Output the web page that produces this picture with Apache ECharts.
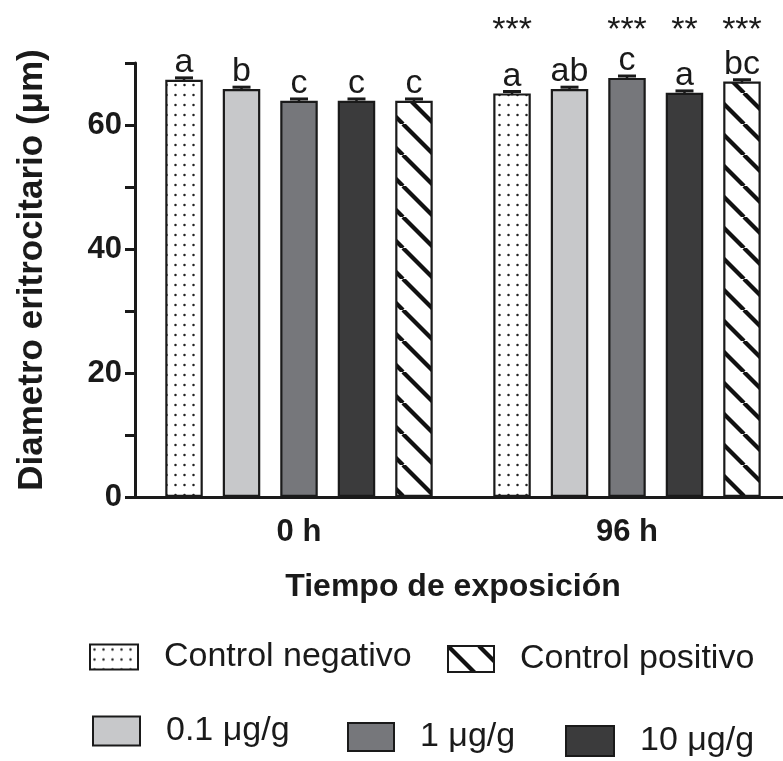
<!DOCTYPE html>
<html>
<head>
<meta charset="utf-8">
<script src="https://cdn.jsdelivr.net/npm/echarts@6/dist/echarts.min.js"></script>
<style>
html,body{margin:0;padding:0;background:#fff;}
#chart{width:783px;height:761px;}
</style>
</head>
<body>
<div id="chart"></div>
<script>
// ---------- data ----------
const categories = ['0 h', '96 h'];
const seriesNames = ['Control negativo', '0.1 μg/g', '1 μg/g', '10 μg/g', 'Control positivo'];
const ctrlNeg = [67.3, 65.1];
const dose01 = [65.8, 65.8];
const dose1 = [63.9, 67.6];
const dose10 = [63.9, 65.2];
const ctrlPos = [63.9, 67.0];
const errCtrlNeg = [0.3, 0.3];
const errDose01 = [0.3, 0.3];
const errDose1 = [0.3, 0.3];
const errDose10 = [0.3, 0.3];
const errCtrlPos = [0.3, 0.3];
const lettersCtrlNeg = ['a', 'a'];
const lettersDose01 = ['b', 'ab'];
const lettersDose1 = ['c', 'c'];
const lettersDose10 = ['c', 'a'];
const lettersCtrlPos = ['c', 'bc'];
const starsCtrlNeg = ['', '***'];
const starsDose01 = ['', ''];
const starsDose1 = ['', '***'];
const starsDose10 = ['', '**'];
const starsCtrlPos = ['', '***'];
const yMin = 0, yMax = 70, yStep = 10, yLabelStep = 20;
const yTitle = 'Diametro eritrocitario (μm)';
const xTitle = 'Tiempo de exposición';

const values = [ctrlNeg, dose01, dose1, dose10, ctrlPos];
const errs = [errCtrlNeg, errDose01, errDose1, errDose10, errCtrlPos];
const letters = [lettersCtrlNeg, lettersDose01, lettersDose1, lettersDose10, lettersCtrlPos];
const stars = [starsCtrlNeg, starsDose01, starsDose1, starsDose10, starsCtrlPos];

// ---------- styles ----------
const BAR_W = 37.5;
const BAR_GAP = '53.3%';
const INK = '#1a1a1a';
const BOLD_FONT = '"Liberation Sans", Arial, sans-serif';
const FONT = '"Liberation Sans", Arial, sans-serif';

function dotPattern() {
  const c = document.createElement('canvas');
  c.width = 9; c.height = 10;
  const g = c.getContext('2d');
  g.fillStyle = '#fff'; g.fillRect(0, 0, 9, 10);
  g.fillStyle = '#222';
  g.beginPath(); g.arc(4.5, 5, 1.25, 0, Math.PI * 2); g.fill();
  return c;
}
function hatchPattern() {
  const S = 31;
  const c = document.createElement('canvas');
  c.width = S; c.height = S;
  const g = c.getContext('2d');
  g.fillStyle = '#fff'; g.fillRect(0, 0, S, S);
  g.strokeStyle = '#111'; g.lineWidth = 4.2;
  [-S, 0, S].forEach(function (x0) {
    g.beginPath(); g.moveTo(x0, 0); g.lineTo(x0 + S, S); g.stroke();
  });
  return c;
}
const fills = [
  { image: dotPattern(), repeat: 'repeat' },
  '#c7c8ca',
  '#76777b',
  '#3b3b3c',
  { image: hatchPattern(), repeat: 'repeat' }
];

const chart = echarts.init(document.getElementById('chart'), null, { renderer: 'canvas' });

const barSeries = seriesNames.map(function (name, k) {
  return {
    name: name,
    type: 'bar',
    data: values[k],
    barWidth: BAR_W,
    barGap: BAR_GAP,
    itemStyle: { color: fills[k], borderColor: INK, borderWidth: 2.2 },
    label: {
      show: true, position: 'top', distance: 0,
      formatter: function (p) { return letters[k][p.dataIndex]; },
      fontSize: 34, color: INK, fontFamily: FONT
    },
    emphasis: { disabled: true },
    z: 2
  };
});

const errData = [];
values.forEach(function (arr, k) {
  arr.forEach(function (v, c) { errData.push([c, k, v, errs[k][c]]); });
});

const errSeries = {
  type: 'custom',
  name: 'err',
  data: errData,
  z: 5,
  silent: true,
  renderItem: function (params, api) {
    const c = api.value(0), k = api.value(1), v = api.value(2), e = api.value(3);
    const lay = api.barLayout({ count: seriesNames.length, barWidth: BAR_W, barGap: BAR_GAP });
    const base = api.coord([c, v]);
    const x = base[0] + lay[k].offsetCenter;
    const yHi = api.coord([c, v + e])[1];
    const yLo = api.coord([c, v - e])[1];
    const capHalf = 9;
    const children = [
      { type: 'line', shape: { x1: x, y1: yLo, x2: x, y2: yHi }, style: { stroke: INK, lineWidth: 2.5 } },
      { type: 'line', shape: { x1: x - capHalf, y1: yHi, x2: x + capHalf, y2: yHi }, style: { stroke: INK, lineWidth: 3 } }
    ];
    const s = stars[k][c];
    if (s) {
      const yTop = api.coord([c, yMax])[1];
      children.push({
        type: 'text',
        style: { text: s, x: x, y: yTop - 32, fontSize: 34, fontFamily: FONT, fill: INK, align: 'center', verticalAlign: 'middle' }
      });
    }
    return { type: 'group', children: children };
  }
};

function legendItem(name, left, top, w, h) {
  return {
    data: [name],
    left: left, top: top,
    padding: 0,
    itemWidth: w, itemHeight: h,
    icon: 'rect',
    selectedMode: false,
    textStyle: { fontSize: 34, color: INK, fontFamily: FONT, padding: [0, 0, 0, 21] }
  };
}

const option = {
  backgroundColor: '#fff',
  animation: false,
  grid: { left: 135, width: 656, top: 63, bottom: 264, containLabel: false, outerBoundsMode: 'none' },
  xAxis: {
    type: 'category',
    data: categories,
    axisLine: { lineStyle: { color: INK, width: 3 } },
    axisTick: { alignWithLabel: true, length: 13, lineStyle: { color: INK, width: 3 } },
    axisLabel: { fontSize: 31, fontWeight: 'bold', color: INK, fontFamily: BOLD_FONT, margin: 20 },
    name: xTitle,
    nameLocation: 'middle',
    nameGap: 74,
    nameTextStyle: { fontSize: 32, fontWeight: 'bold', color: INK, fontFamily: BOLD_FONT, padding: [0, 20, 0, 0] }
  },
  yAxis: {
    type: 'value',
    min: yMin, max: yMax, interval: yStep,
    axisLine: { show: true, lineStyle: { color: INK, width: 3 } },
    axisTick: { show: true, length: 10, lineStyle: { color: INK, width: 3 } },
    splitLine: { show: false },
    axisLabel: {
      fontSize: 31, fontWeight: 'bold', color: INK, fontFamily: BOLD_FONT, margin: 13,
      formatter: function (v) { return v % yLabelStep === 0 ? String(v) : ''; }
    },
    name: yTitle,
    nameLocation: 'middle',
    nameGap: 85,
    nameRotate: 90,
    nameTextStyle: { fontSize: 35, fontWeight: 'bold', color: INK, fontFamily: BOLD_FONT, padding: [0, 0, 0, 20] }
  },
  legend: [
    legendItem(seriesNames[0], 89, 640, 48, 25),
    legendItem(seriesNames[4], 447, 642, 46, 26),
    legendItem(seriesNames[1], 92, 714, 47, 29),
    legendItem(seriesNames[2], 347, 720, 46, 28),
    legendItem(seriesNames[3], 565, 724, 48, 30)
  ],
  series: barSeries.concat([errSeries])
};
chart.setOption(option);
</script>
</body>
</html>
